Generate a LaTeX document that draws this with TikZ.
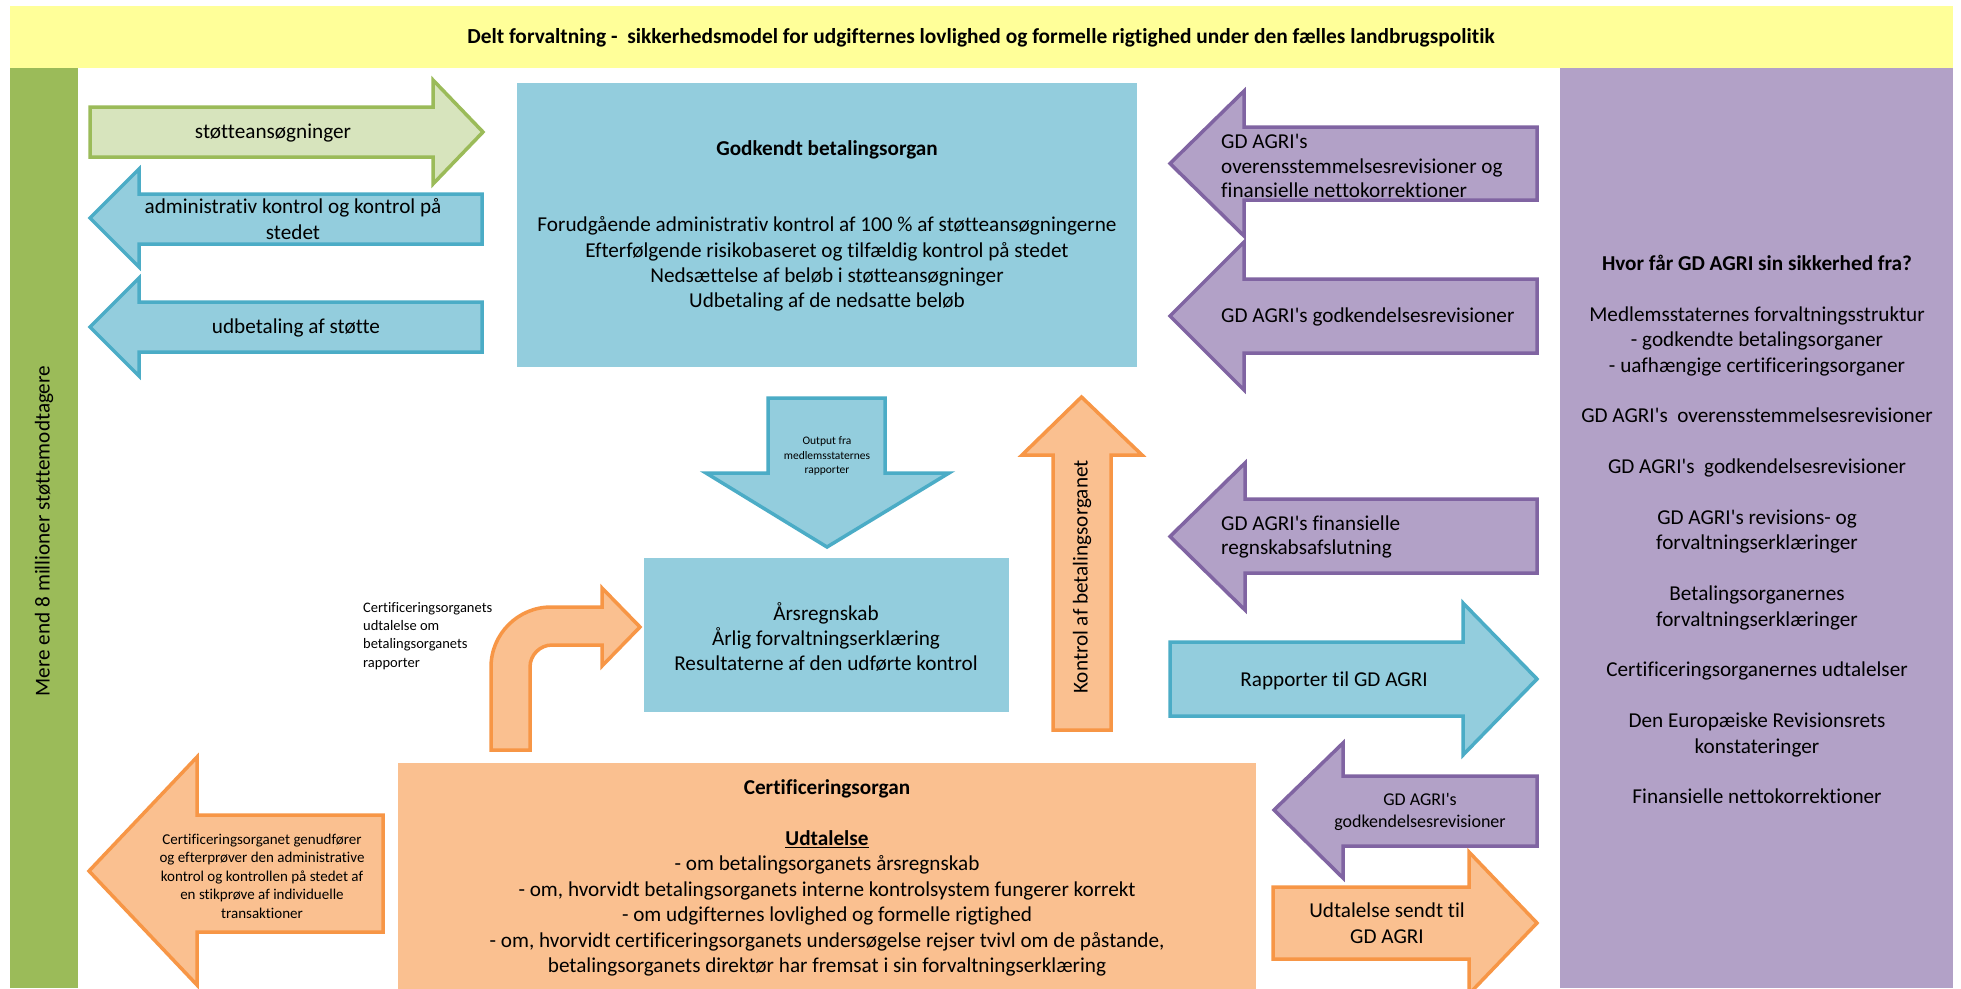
\documentclass[tikz,border=0pt]{standalone}
\usepackage{fontspec}
\setmainfont{Carlito}[Ligatures={NoCommon}]
\newcommand\apo{\textquotesingle}
\definecolor{banner}{HTML}{FFFF99}
\definecolor{grnD}{HTML}{9BBB59}
\definecolor{grnF}{HTML}{D7E4BD}
\definecolor{bluD}{HTML}{4BACC6}
\definecolor{bluF}{HTML}{93CDDD}
\definecolor{purD}{HTML}{8064A2}
\definecolor{purF}{HTML}{B2A1C7}
\definecolor{orgD}{HTML}{F79646}
\definecolor{orgF}{HTML}{FAC090}
\tikzset{
  arr/.style={line width=3.5pt, line join=miter},
  grnarrow/.style={arr, fill=grnF, draw=grnD},
  bluarrow/.style={arr, fill=bluF, draw=bluD},
  purarrow/.style={arr, fill=purF, draw=purD},
  orgarrow/.style={arr, fill=orgF, draw=orgD},
  txt/.style={inner sep=0pt, align=center, font=\fontsize{21.2}{25.4}\selectfont},
  txtl/.style={inner sep=0pt, align=left, font=\fontsize{21.2}{24.5}\selectfont},
}
\begin{document}
\begin{tikzpicture}[x=1pt,y=-1pt]
\useasboundingbox (0,0) rectangle (1961,988);
\clip (0,0) rectangle (1961,988);
\fill[white] (0,0) rectangle (1961,988);
% banner and side panels
\fill[banner] (10,6) rectangle (1953,68);
\node[txt, font=\fontsize{21.4}{25}\selectfont\bfseries] (title) at (981,38) {Delt forvaltning -\ \ sikkerhedsmodel for udgifternes lovlighed og formelle rigtighed under den fælles landbrugspolitik};
\fill[grnD] (10,68) rectangle (78,988);
\node[txt, rotate=90] (recip) at (44,531) {Mere end 8 millioner støttemodtagere};
\fill[purF] (1560,68) rectangle (1953,988);
\node[txt] (source) at (1757,529.5) {\textbf{Hvor får GD AGRI sin sikkerhed fra?}\\[25.4pt]
Medlemsstaternes forvaltningsstruktur\\- godkendte betalingsorganer\\- uafhængige certificeringsorganer\\[25.4pt]
GD AGRI\apo s\ \ overensstemmelsesrevisioner\\[25.4pt]
GD AGRI\apo s\ \ godkendelsesrevisioner\\[25.4pt]
GD AGRI\apo s revisions- og\\forvaltningserklæringer\\[25.4pt]
Betalingsorganernes\\forvaltningserklæringer\\[25.4pt]
Certificeringsorganernes udtalelser\\[25.4pt]
Den Europæiske Revisionsrets\\konstateringer\\[25.4pt]
Finansielle nettokorrektioner};
% left arrows
\draw[grnarrow] (90,107) -- (433,107) -- (433,80) -- (483,132) -- (433,184) -- (433,157) -- (90,157) -- cycle;
\node[txt] (applic) at (273,133) {støtteansøgninger};
\draw[bluarrow] (90,218) -- (139,169) -- (139,194) -- (482,194) -- (482,244) -- (139,244) -- (139,267) -- cycle;
\node[txt] (admin) at (293,219) {administrativ kontrol og kontrol på\\stedet};
\draw[bluarrow] (90,327) -- (139,278) -- (139,302) -- (482,302) -- (482,352) -- (139,352) -- (139,376) -- cycle;
\node[txt] (payout) at (296,328) {udbetaling af støtte};
% paying agency box
\fill[bluF] (517,83) rectangle (1137,367);
\node[txt] (agency) at (827,226) {\textbf{Godkendt betalingsorgan}\\[50.8pt]
Forudgående administrativ kontrol af 100 \% af støtteansøgningerne\\
Efterfølgende risikobaseret og tilfældig kontrol på stedet\\
Nedsættelse af beløb i støtteansøgninger\\
Udbetaling af de nedsatte beløb};
% output arrow
\draw[bluarrow] (768,398) -- (885,398) -- (885,473) -- (949,473) -- (827,547) -- (706,473) -- (768,473) -- cycle;
\node[txt, font=\fontsize{11.5}{14.5}\selectfont] (output) at (827,456) {Output fra\\medlemsstaternes\\rapporter};
% annual accounts box
\fill[bluF] (644,558) rectangle (1009,712);
\node[txt] (accounts) at (826,637) {Årsregnskab\\Årlig forvaltningserklæring\\Resultaterne af den udførte kontrol};
% bent arrow
\draw[orgarrow] (491,750) -- (491,667) .. controls (491,634) and (518,607) .. (551,607) -- (602,607) -- (602,588) -- (640,627) -- (602,666) -- (602,645) -- (552,645) .. controls (540,645) and (530,655) .. (530,667) -- (530,750) -- cycle;
\node[txtl, anchor=west, font=\fontsize{14.5}{18.3}\selectfont] (opinion) at (363,636) {Certificeringsorganets\\udtalelse om\\betalingsorganets\\rapporter};
% control arrow
\draw[orgarrow] (1053,730) -- (1053,455) -- (1022,455) -- (1081.5,397) -- (1142,455) -- (1111,455) -- (1111,730) -- cycle;
\node[txt, rotate=90] (control) at (1082,577) {Kontrol af betalingsorganet};
% purple arrows
\draw[purarrow] (1170,163.5) -- (1244,91) -- (1244,127) -- (1537,127) -- (1537,200) -- (1244,200) -- (1244,236) -- cycle;
\node[txtl, anchor=west] (conf) at (1221,166) {GD AGRI\apo s\\overensstemmelsesrevisioner og\\finansielle nettokorrektioner};
\draw[purarrow] (1170,316) -- (1244,242) -- (1244,279) -- (1537,279) -- (1537,353) -- (1244,353) -- (1244,390) -- cycle;
\node[txtl, anchor=west] (accr) at (1221,317) {GD AGRI\apo s godkendelsesrevisioner};
\draw[purarrow] (1170,536.5) -- (1245,463) -- (1245,499) -- (1537,499) -- (1537,573) -- (1245,573) -- (1245,610) -- cycle;
\node[txtl, anchor=west] (fin) at (1221,537) {GD AGRI\apo s finansielle\\regnskabsafslutning};
\draw[bluarrow] (1170,642) -- (1463,642) -- (1463,603) -- (1537,679) -- (1463,755) -- (1463,716) -- (1170,716) -- cycle;
\node[txt] (reports) at (1334,681) {Rapporter til GD AGRI};
\draw[purarrow] (1274,810) -- (1343,743) -- (1343,776) -- (1537,776) -- (1537,846) -- (1343,846) -- (1343,878) -- cycle;
\node[txt, font=\fontsize{18}{22}\selectfont] (accr2) at (1420,812) {GD AGRI\apo s\\godkendelsesrevisioner};
\draw[orgarrow] (1273,887) -- (1469,887) -- (1469,852) -- (1537,923) -- (1469,994) -- (1469,959) -- (1273,959) -- cycle;
\node[txt] (sent) at (1387,923) {Udtalelse sendt til\\GD AGRI};
% left orange arrow
\draw[orgarrow] (89,871) -- (197,757) -- (197,815) -- (383,815) -- (383,932) -- (197,932) -- (197,985) -- cycle;
\node[txt, font=\fontsize{15}{18.5}\selectfont] (recheck) at (262,876) {Certificeringsorganet genudfører\\og efterprøver den administrative\\kontrol og kontrollen på stedet af\\en stikprøve af individuelle\\transaktioner};
% certification body box
\fill[orgF] (398,763) rectangle (1256,992);
\node[txt] (cert) at (827,878) {\textbf{Certificeringsorgan}\\[25.4pt]
\textbf{\underline{Udtalelse}}\\
- om betalingsorganets årsregnskab\\
- om, hvorvidt betalingsorganets interne kontrolsystem fungerer korrekt\\
- om udgifternes lovlighed og formelle rigtighed\hspace*{144pt}\\
- om, hvorvidt certificeringsorganets undersøgelse rejser tvivl om de påstande,\\
betalingsorganets direktør har fremsat i sin forvaltningserklæring};
\end{tikzpicture}
\end{document}
